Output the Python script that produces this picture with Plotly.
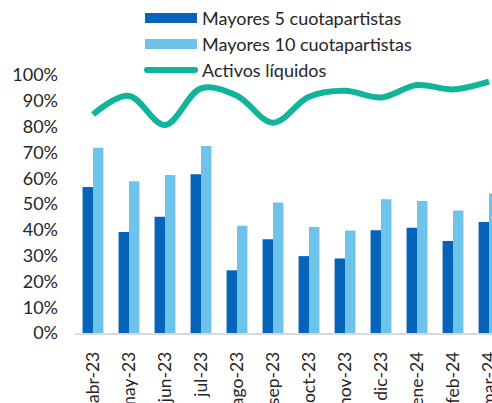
import plotly.graph_objects as go

# Monthly concentration and liquidity figures
months = ["abr-23", "may-23", "jun-23", "jul-23", "ago-23", "sep-23",
          "oct-23", "nov-23", "dic-23", "ene-24", "feb-24", "mar-24"]
top5 = [0.566, 0.391, 0.451, 0.615, 0.243, 0.363,
        0.298, 0.289, 0.398, 0.408, 0.357, 0.430]
top10 = [0.718, 0.588, 0.612, 0.725, 0.416, 0.506,
         0.411, 0.397, 0.518, 0.512, 0.475, 0.541]
liquid = [0.847, 0.919, 0.806, 0.948, 0.920, 0.815,
          0.916, 0.939, 0.913, 0.961, 0.944, 0.974]
y_ticks = [i / 10 for i in range(11)]
y_labels = [f"{i * 10}%" for i in range(11)]

names = ["Mayores 5 cuotapartistas", "Mayores 10 cuotapartistas", "Activos líquidos"]
c_dark = "#0563BA"
c_light = "#6EC3EA"
c_line = "#10B49A"
txt = "#262626"
font_family = "Lato, 'Open Sans', sans-serif"
fs = 18

W, H = 492, 403
ml, mr, mt, mb = 75, 0, 75, 70

fig = go.Figure()
fig.add_trace(go.Bar(x=months, y=top5, name=names[0], marker_color=c_dark,
                     marker_line_width=0))
fig.add_trace(go.Bar(x=months, y=top10, name=names[1], marker_color=c_light,
                     marker_line_width=0))
fig.add_trace(go.Scatter(x=months, y=liquid, name=names[2], mode="lines",
                         line=dict(color=c_line, width=6, shape="spline",
                                   smoothing=1.0)))

# Custom legend with wide swatches, placed above the plot area
pw = W - ml - mr
ph = H - mt - mb
def px_x(v):
    return (v - ml) / pw
def px_y(v):
    return (H - mb - v) / ph

rows = [18, 44, 70]
sw_x0, sw_x1, txt_x = 145, 197, 200
shapes = []
annotations = []
for i, (nm, col) in enumerate(zip(names, [c_dark, c_light, c_line])):
    yc = rows[i]
    if i < 2:
        shapes.append(dict(type="rect", xref="paper", yref="paper",
                           x0=px_x(sw_x0), x1=px_x(sw_x1),
                           y0=px_y(yc + 5), y1=px_y(yc - 5),
                           fillcolor=col, line_width=0, layer="above"))
    else:
        shapes.append(dict(type="line", xref="paper", yref="paper",
                           x0=px_x(sw_x0 + 2), x1=px_x(sw_x1 - 2),
                           y0=px_y(yc), y1=px_y(yc),
                           line=dict(color=col, width=6), layer="above"))
    annotations.append(dict(text=nm, xref="paper", yref="paper",
                            x=px_x(txt_x), y=px_y(yc), xanchor="left",
                            yanchor="middle", showarrow=False,
                            font=dict(size=fs, color=txt, family=font_family)))
# Rounded line-cap look for the line swatch
for xe in (sw_x0 + 2, sw_x1 - 2):
    shapes.append(dict(type="circle", xref="paper", yref="paper",
                       x0=px_x(xe - 3), x1=px_x(xe + 3),
                       y0=px_y(rows[2] + 3), y1=px_y(rows[2] - 3),
                       fillcolor=c_line, line_width=0, layer="above"))

fig.update_layout(
    width=W, height=H,
    margin=dict(l=ml, r=mr, t=mt, b=mb, pad=0, autoexpand=False),
    paper_bgcolor="white", plot_bgcolor="white",
    barmode="group", bargap=0.42, bargroupgap=0,
    showlegend=False,
    shapes=shapes, annotations=annotations,
    font=dict(family=font_family, size=fs, color=txt),
)
fig.update_xaxes(
    type="category", range=[-0.5, 11.083], tickangle=-90, automargin=False,
    showgrid=False, showline=True, linecolor="#D9D9D9", linewidth=1.5,
    ticks="", ticklabelstandoff=10,
    tickfont=dict(size=fs - 0.5, color=txt, family=font_family),
)
fig.update_yaxes(
    range=[0, 1.0], tickvals=y_ticks, ticktext=y_labels, automargin=False,
    showgrid=False, zeroline=False, showline=False, ticks="",
    ticklabelstandoff=16,
    tickfont=dict(size=fs, color=txt, family=font_family),
)

fig.write_html("out.html")
